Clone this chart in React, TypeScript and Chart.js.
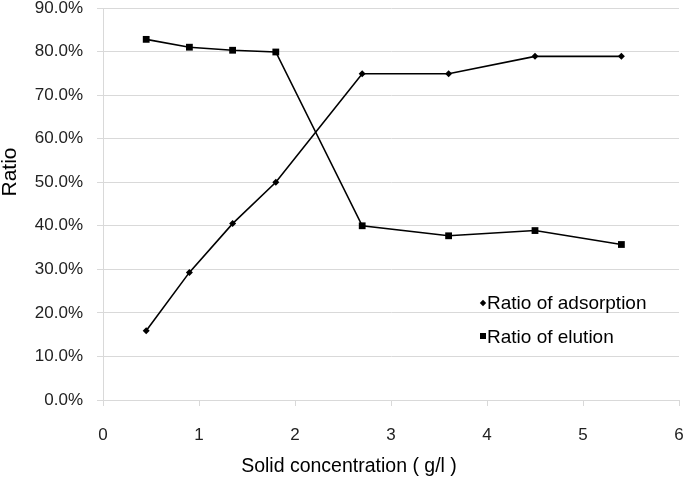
import React, { useEffect, useRef } from "react";
import { Chart, registerables } from "chart.js";

Chart.register(...registerables);

const xValues = [0.45, 0.9, 1.35, 1.8, 2.7, 3.6, 4.5, 5.4];
const adsorption = [15.9, 29.3, 40.5, 50.0, 74.9, 74.9, 78.9, 78.9];
const elution = [82.8, 81.0, 80.3, 79.9, 40.0, 37.7, 38.9, 35.7];
const seriesLabels = ["Ratio of adsorption", "Ratio of elution"];
const xTitle = "Solid concentration ( g/l )";
const yTitle = "Ratio";

const FONT = "'Liberation Sans', Arial, sans-serif";

const overlayPlugin = {
  id: "overlay",
  afterDraw(chart: any) {
    const ctx = chart.ctx;
    const area = chart.chartArea;
    ctx.save();
    ctx.fillStyle = "#000";
    // x title
    ctx.font = `19.5px ${FONT}`;
    ctx.textAlign = "center";
    ctx.textBaseline = "middle";
    ctx.fillText(xTitle, 349, 467);
    // y title
    ctx.save();
    ctx.translate(10, 172);
    ctx.rotate(-Math.PI / 2);
    ctx.font = `21px ${FONT}`;
    ctx.fillText(yTitle, 0, 0);
    ctx.restore();
    // legend
    const items = chart.data.datasets;
    const lx = area.left + 380;
    const ly0 = 304;
    items.forEach((ds: any, i: number) => {
      const y = ly0 + i * 34;
      ctx.fillStyle = "#000";
      ctx.beginPath();
      if (ds.pointStyle === "rectRot") {
        const s = 3.2;
        ctx.moveTo(lx, y - s - 1);
        ctx.lineTo(lx + s, y - 1);
        ctx.lineTo(lx, y + s - 1);
        ctx.lineTo(lx - s, y - 1);
        ctx.closePath();
        ctx.fill();
      } else {
        ctx.fillRect(lx - 3, y - 5, 6, 6);
      }
      ctx.font = `19px ${FONT}`;
      ctx.textAlign = "left";
      ctx.textBaseline = "middle";
      ctx.fillText(ds.label, lx + 4, y);
    });
    ctx.restore();
  },
};

export default function App() {
  const ref = useRef<HTMLCanvasElement | null>(null);
  useEffect(() => {
    document.body.style.margin = "0";
    const canvas = ref.current!;
    const chart = new Chart(canvas, {
      type: "line",
      data: {
        datasets: [
          {
            label: seriesLabels[0],
            data: xValues.map((x, i) => ({ x, y: adsorption[i] })),
            borderColor: "#000",
            backgroundColor: "#000",
            borderWidth: 1.6,
            pointStyle: "rectRot",
            pointRadius: 3.5,
            pointBorderWidth: 0,
            tension: 0,
          },
          {
            label: seriesLabels[1],
            data: xValues.map((x, i) => ({ x, y: elution[i] })),
            borderColor: "#000",
            backgroundColor: "#000",
            borderWidth: 1.6,
            pointStyle: "rect",
            pointRadius: 4.8,
            pointBorderWidth: 0,
            tension: 0,
          },
        ],
      },
      options: {
        responsive: false,
        animation: false,
        layout: { padding: { left: 0, right: 6, top: 8, bottom: 0 } },
        plugins: { legend: { display: false }, tooltip: { enabled: false } },
        scales: {
          x: {
            type: "linear",
            min: 0,
            max: 6,
            ticks: {
              stepSize: 1,
              color: "#222",
              font: { family: FONT, size: 17 },
              padding: 19,
              maxRotation: 0,
            },
            grid: {
              drawOnChartArea: false,
              drawTicks: true,
              tickLength: 6,
              color: "#d9d9d9",
            },
            border: { color: "#d9d9d9" },
            afterFit(scale: any) {
              scale.height = 86;
              scale.paddingLeft = 0;
              scale.paddingRight = 0;
            },
          },
          y: {
            min: 0,
            max: 90,
            ticks: {
              stepSize: 10,
              color: "#222",
              font: { family: FONT, size: 17 },
              padding: 14,
              callback: (v: any) => Number(v).toFixed(1) + "%",
            },
            grid: {
              color: "#d9d9d9",
              tickLength: 6,
            },
            border: { color: "#d9d9d9" },
            afterFit(scale: any) {
              scale.width = 103;
              scale.paddingTop = 0;
              scale.paddingBottom = 0;
            },
          },
        },
      },
      plugins: [overlayPlugin],
    });
    return () => chart.destroy();
  }, []);
  return (
    <div style={{ width: 685, height: 486 }}>
      <canvas ref={ref} width={685} height={486} />
    </div>
  );
}
